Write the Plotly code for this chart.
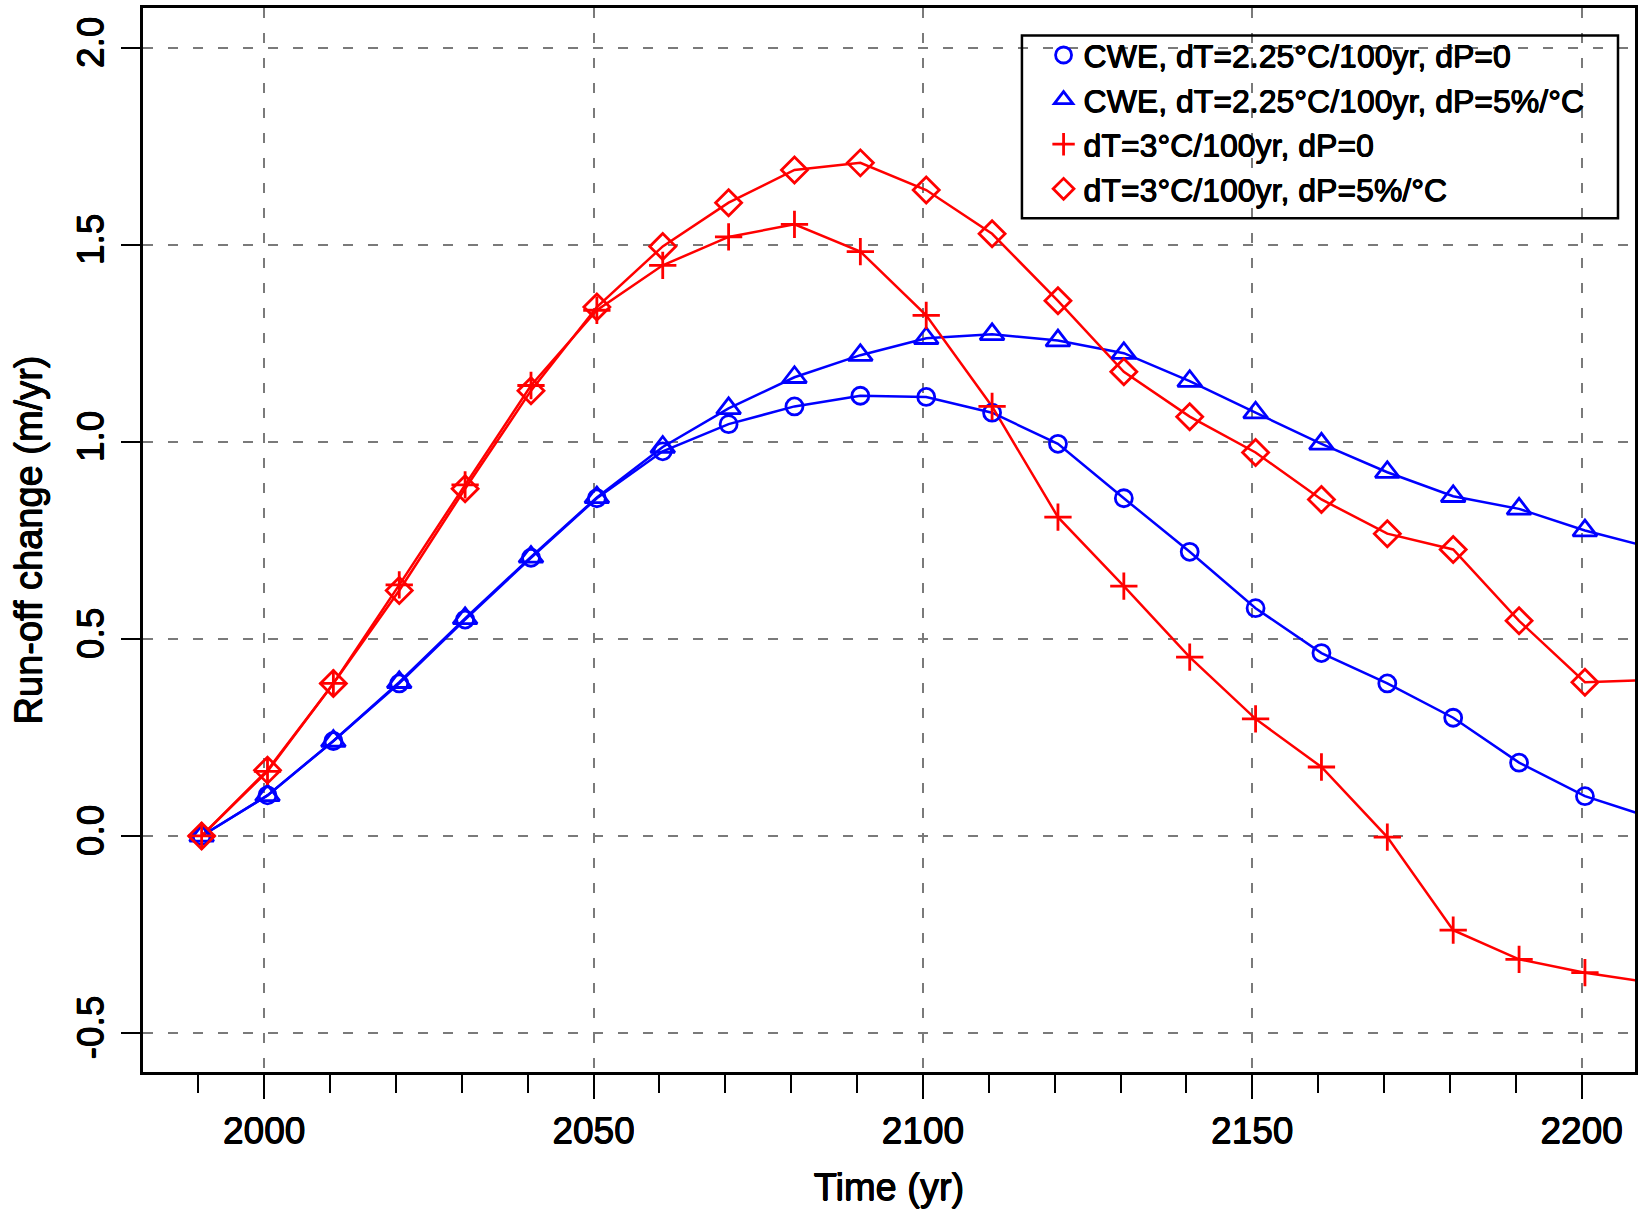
import plotly.graph_objects as go

# Decade mid-points (the last one lies just beyond the plotted time window)
years = [1990.5, 2000.5, 2010.5, 2020.5, 2030.5, 2040.5, 2050.5, 2060.5, 2070.5, 2080.5,
         2090.5, 2100.5, 2110.5, 2120.5, 2130.5, 2140.5, 2150.5, 2160.5, 2170.5, 2180.5,
         2190.5, 2200.5, 2210.5]

# Run-off change (m/yr) for each scenario
cwe_dp0 = [0.0, 0.103, 0.241, 0.387, 0.549, 0.706, 0.857, 0.976, 1.045, 1.090,
           1.117, 1.114, 1.074, 0.995, 0.857, 0.721, 0.578, 0.464, 0.387, 0.300,
           0.186, 0.101, 0.047]
cwe_dp5 = [0.0, 0.103, 0.241, 0.390, 0.552, 0.708, 0.859, 0.987, 1.085, 1.164,
           1.220, 1.263, 1.273, 1.257, 1.225, 1.154, 1.074, 0.995, 0.923, 0.862,
           0.830, 0.775, 0.732]
dt3_dp0 = [0.0, 0.164, 0.387, 0.637, 0.891, 1.143, 1.334, 1.448, 1.520, 1.552,
           1.483, 1.321, 1.090, 0.809, 0.634, 0.454, 0.297, 0.175, -0.003, -0.239,
           -0.313, -0.347, -0.372]
dt3_dp5 = [0.0, 0.167, 0.387, 0.623, 0.881, 1.130, 1.342, 1.496, 1.607, 1.690,
           1.708, 1.639, 1.528, 1.358, 1.178, 1.064, 0.973, 0.854, 0.767, 0.727,
           0.546, 0.390, 0.396]

series_names = [
    "CWE, dT=2.25°C/100yr, dP=0",
    "CWE, dT=2.25°C/100yr, dP=5%/°C",
    "dT=3°C/100yr, dP=0",
    "dT=3°C/100yr, dP=5%/°C",
]

x_tick_vals = [2000, 2050, 2100, 2150, 2200]
x_tick_text = ["2000", "2050", "2100", "2150", "2200"]
y_tick_vals = [-0.5, 0.0, 0.5, 1.0, 1.5, 2.0]
y_tick_text = ["-0.5", "0.0", "0.5", "1.0", "1.5", "2.0"]

BLUE = "#0000FF"
RED = "#FF0000"
FONT = "Liberation Sans, Arial, Helvetica, sans-serif"
# slight outline to give the lettering a heavier stroke
HEAVY = "0.45px 0 0 #000, -0.45px 0 0 #000, 0 0.45px 0 #000, 0 -0.45px 0 #000"

styles = [
    (cwe_dp0, BLUE, "circle-open", 17),
    (cwe_dp5, BLUE, "triangle-up-open", 21),
    (dt3_dp0, RED, "cross-thin-open", 19.5),
    (dt3_dp5, RED, "diamond-open", 20),
]

fig = go.Figure()

# connecting lines (no legend entry)
for (vals, color, sym, size), name in zip(styles, series_names):
    fig.add_trace(go.Scatter(
        x=years, y=vals, mode="lines", showlegend=False, hoverinfo="skip",
        line=dict(color=color, width=2.5),
    ))

# point symbols (these carry the legend)
for (vals, color, sym, size), name in zip(styles, series_names):
    fig.add_trace(go.Scatter(
        x=years, y=vals, mode="markers", name=name,
        marker=dict(symbol=sym, size=size, color=color,
                    line=dict(color=color, width=2.8)),
    ))

axis_common = dict(
    showline=True, linecolor="black", linewidth=2.5, mirror=True,
    ticks="outside", tickcolor="black", tickwidth=2,
    showgrid=True, gridcolor="#7a7a7a", gridwidth=2, griddash="10px,15px",
    zeroline=False,
    tickfont=dict(family=FONT, size=37, color="black", shadow=HEAVY),
    title_font=dict(family=FONT, size=38, color="black", shadow=HEAVY),
)

fig.update_xaxes(
    range=[1981.6, 2208.1],
    tickmode="array", tickvals=x_tick_vals, ticktext=x_tick_text,
    ticklen=24,
    minor=dict(tick0=1990, dtick=10, ticks="outside", ticklen=18,
               tickwidth=2, tickcolor="black", showgrid=False),
    title_text="Time (yr)", title_standoff=24,
    **axis_common,
)
fig.update_yaxes(
    range=[-0.599, 2.101],
    tickmode="array", tickvals=y_tick_vals, ticktext=y_tick_text,
    ticklen=19, tickangle=-90, ticklabelstandoff=3,
    title_text="Run-off change (m/yr)", title_standoff=17,
    **axis_common,
)

# legend frame
fig.add_shape(
    type="rect", xref="paper", yref="paper",
    x0=0.5891, x1=0.9886, y0=0.8024, y1=0.9742,
    line=dict(color="black", width=2.5), fillcolor="rgba(0,0,0,0)",
)

fig.update_layout(
    width=1643, height=1210,
    margin=dict(l=143, r=5, t=5, b=138),
    paper_bgcolor="white", plot_bgcolor="white",
    font=dict(family=FONT, color="black"),
    legend=dict(
        x=0.6036, y=0.9815, xanchor="left", yanchor="top",
        bgcolor="rgba(0,0,0,0)", borderwidth=0,
        font=dict(family=FONT, size=32, color="black", shadow=HEAVY),
        tracegroupgap=0,
    ),
)

fig.write_html("out.html")
